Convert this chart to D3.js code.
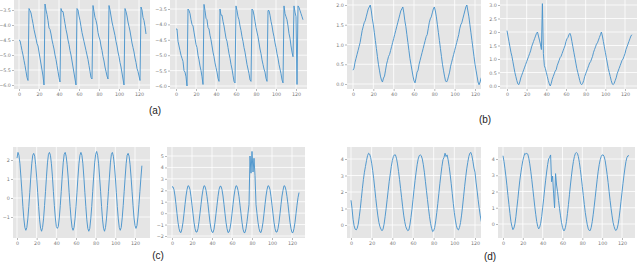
<!DOCTYPE html>
<html>
<head>
<meta charset="utf-8">
<script src="https://cdnjs.cloudflare.com/ajax/libs/d3/7.8.5/d3.min.js"></script>
<style>
  body { margin: 0; background: #fff; }
  svg { display: block; }
</style>
</head>
<body>
<div id="chart"></div>
<script>
// data (index 0..127 on every x axis)
var a1Values = [-4.50,-4.52,-4.68,-4.85,-5.00,-5.18,-5.35,-5.55,-5.75,-5.85,
  -3.45,-3.52,-3.60,-3.78,-3.95,-4.15,-4.30,-4.45,-4.62,-4.70,-4.90,-5.10,-5.30,-5.50,-5.70,-6.00,
  -3.30,-3.50,-3.65,-3.85,-4.10,-4.15,-4.30,-4.50,-4.65,-4.80,-5.00,-5.15,-5.35,-5.55,-5.75,-5.90,
  -3.45,-3.55,-3.55,-3.75,-3.95,-4.15,-4.30,-4.50,-4.65,-4.85,-5.00,-5.20,-5.40,-5.60,-5.80,-6.00,
  -3.45,-3.50,-3.70,-3.85,-4.05,-4.25,-4.40,-4.55,-4.70,-4.85,-5.00,-5.15,-5.35,-5.55,-5.75,-5.80,
  -3.35,-3.55,-3.75,-3.85,-4.00,-4.25,-4.40,-4.50,-4.70,-4.85,-5.05,-5.20,-5.40,-5.55,-5.70,-5.80,
  -3.35,-3.50,-3.70,-3.90,-4.05,-4.20,-4.35,-4.55,-4.70,-4.90,-5.05,-5.25,-5.40,-5.60,-5.80,-6.00,
  -3.45,-3.55,-3.70,-3.90,-4.05,-4.20,-4.40,-4.60,-4.75,-4.90,-5.10,-5.25,-5.45,-5.55,-5.70,-5.85,
  -3.40,-3.50,-3.75,-3.85,-4.05,-4.30];

var a2Values = [-4.15,-4.15,-4.55,-4.70,-4.85,-5.00,-5.10,-5.20,-5.50,-5.55,-5.70,-6.00,
  -3.50,-3.55,-3.65,-3.85,-4.00,-4.05,-4.25,-4.45,-4.65,-4.75,-5.00,-5.15,-5.35,-5.50,-5.70,-5.95,
  -3.35,-3.55,-3.80,-3.85,-4.10,-4.15,-4.35,-4.50,-4.70,-4.90,-5.05,-5.25,-5.40,-5.55,-5.75,-5.85,
  -3.50,-3.70,-3.70,-3.90,-4.05,-4.25,-4.45,-4.55,-4.75,-4.95,-5.10,-5.30,-5.45,-5.65,-5.85,-5.90,
  -3.40,-3.55,-3.75,-3.85,-4.05,-4.20,-4.40,-4.55,-4.75,-4.90,-5.10,-5.30,-5.45,-5.60,-5.80,-5.85,
  -3.50,-3.55,-3.70,-3.90,-4.10,-4.25,-4.40,-4.60,-4.80,-4.95,-5.15,-5.30,-5.45,-5.55,-5.75,-5.85,
  -3.55,-3.55,-3.70,-3.90,-4.05,-4.25,-4.40,-4.60,-4.75,-4.95,-5.10,-5.30,-5.45,-5.60,-5.80,-5.90,
  -3.40,-3.65,-3.75,-3.85,-4.05,-4.30,-4.45,-4.70,-4.90,-5.05,
  -3.40,-3.60,-3.75,-5.95,-3.40,-3.45,-3.55,-3.65,-3.75,-3.85];

var b1Values = [0.35,0.40,0.55,0.65,0.75,0.85,0.95,1.05,1.20,1.35,1.45,1.55,1.60,1.70,1.80,1.90,1.95,2.00,
  1.85,1.65,1.50,1.30,1.10,0.90,0.70,0.50,0.35,0.20,0.10,0.05,
  0.15,0.20,0.35,0.50,0.60,0.70,0.75,0.85,0.95,1.05,1.15,1.25,1.35,1.45,1.55,1.65,1.75,1.85,1.90,1.95,
  1.80,1.60,1.45,1.25,1.05,0.85,0.65,0.50,0.35,0.20,0.08,0.03,
  0.15,0.30,0.35,0.50,0.60,0.70,0.80,0.90,1.00,1.10,1.20,1.25,1.40,1.55,1.65,1.70,1.80,1.90,1.95,
  1.85,1.70,1.50,1.30,1.10,0.90,0.70,0.50,0.35,0.20,0.08,0.05,
  0.10,0.20,0.30,0.45,0.55,0.65,0.75,0.85,0.95,1.05,1.15,1.25,1.40,1.50,1.55,1.65,1.75,1.85,1.95,2.00,
  1.85,1.70,1.50,1.30,1.10,0.90,0.70,0.50,0.35,0.20,0.05,-0.02,
  0.05,0.15,0.20];

var b2Values = [2.05,1.85,1.65,1.45,1.25,1.10,0.90,0.70,0.50,0.35,0.20,0.08,0.05,
  0.15,0.30,0.40,0.50,0.60,0.70,0.80,0.90,1.00,1.10,1.20,1.30,1.45,1.55,1.65,1.75,1.85,1.95,2.00,
  1.85,1.70,1.55,1.35,3.05,1.20,0.75,0.65,0.50,0.35,0.20,0.08,0.00,
  0.10,0.25,0.35,0.45,0.55,0.60,0.75,0.85,0.95,1.05,1.10,1.20,1.30,1.40,1.50,1.65,1.75,1.80,1.90,1.95,
  1.85,1.65,1.45,1.25,1.05,0.85,0.65,0.50,0.35,0.20,0.08,0.05,
  0.10,0.20,0.35,0.45,0.55,0.65,0.75,0.85,0.90,1.00,1.10,1.25,1.35,1.45,1.55,1.60,1.70,1.80,1.90,2.00,
  1.85,1.65,1.45,1.25,1.05,0.85,0.65,0.50,0.35,0.20,0.08,0.05,
  0.10,0.20,0.30,0.45,0.55,0.65,0.75,0.85,0.95,1.00,1.10,1.20,1.35,1.45,1.55,1.65,1.75,1.85,1.90];

var c1Values = [2.10,
  2.40,2.25,1.80,1.10,0.35,-0.45,-1.10,-1.55,-1.70,-1.55,-1.10,-0.45,0.30,1.10,1.80,2.25,
  2.35,2.20,1.75,1.10,0.30,-0.45,-1.15,-1.60,-1.75,-1.55,-1.10,-0.40,0.35,1.15,1.85,2.30,
  2.40,2.25,1.80,1.15,0.35,-0.40,-1.05,-1.50,-1.60,-1.50,-1.05,-0.40,0.35,1.15,1.85,2.30,
  2.40,2.20,1.75,1.10,0.30,-0.45,-1.10,-1.55,-1.70,-1.55,-1.10,-0.45,0.30,1.10,1.80,2.25,
  2.40,2.25,1.80,1.10,0.30,-0.45,-1.15,-1.60,-1.75,-1.60,-1.10,-0.45,0.35,1.15,1.85,2.30,
  2.45,2.25,1.80,1.10,0.35,-0.45,-1.15,-1.60,-1.75,-1.55,-1.10,-0.40,0.35,1.10,1.85,2.30,
  2.40,2.20,1.75,1.10,0.30,-0.45,-1.10,-1.55,-1.70,-1.55,-1.05,-0.40,0.35,1.10,1.80,2.25,
  2.35,2.20,1.75,1.10,0.35,-0.40,-1.05,-1.45,-1.60,-1.45,-1.00,-0.35,0.35,1.05,1.70];

var c2Values = [2.30,2.30,2.05,1.50,0.75,-0.05,-0.80,-1.35,-1.65,-1.70,-1.35,-0.80,-0.05,0.75,1.50,2.05,
  2.40,2.35,2.05,1.45,0.70,-0.05,-0.80,-1.35,-1.65,-1.65,-1.35,-0.75,0.00,0.75,1.50,2.05,
  2.40,2.35,2.00,1.45,0.75,-0.05,-0.80,-1.35,-1.65,-1.70,-1.40,-0.80,-0.05,0.70,1.45,2.05,
  2.35,2.35,2.05,1.50,0.75,-0.05,-0.80,-1.35,-1.70,-1.65,-1.35,-0.80,-0.05,0.75,1.50,2.05,
  2.40,2.35,2.00,1.45,0.70,-0.05,-0.80,-1.40,-1.70,-1.70,-1.35,-0.75,0.00,0.75,5.00,3.50,
  5.40,3.60,4.80,3.30,0.75,-0.05,-0.80,-1.35,-1.65,-1.70,-1.35,-0.80,-0.05,0.75,1.50,2.05,
  2.40,2.35,2.05,1.45,0.70,-0.05,-0.80,-1.35,-1.65,-1.65,-1.35,-0.80,-0.05,0.75,1.50,2.00,
  2.40,2.35,2.00,1.45,0.75,-0.05,-0.80,-1.35,-1.70,-1.70,-1.35,-0.80,-0.05,0.70,1.35,1.80];

var d1Values = [1.50,1.00,0.35,-0.05,-0.25,-0.30,-0.20,0.05,0.50,1.00,1.60,2.20,2.75,3.20,3.55,3.90,4.20,4.35,4.30,4.10,
  3.75,3.30,2.80,2.20,1.60,1.05,0.55,0.15,-0.10,-0.25,-0.35,-0.25,0.05,0.50,1.00,1.55,2.10,2.65,3.10,3.55,
  3.90,4.15,4.25,4.25,4.05,3.70,3.25,2.75,2.20,1.65,1.10,0.60,0.20,-0.10,-0.25,-0.35,-0.30,0.00,0.45,0.95,
  1.55,2.15,2.70,3.20,3.65,4.00,4.20,4.25,4.20,4.00,3.65,3.20,2.65,2.10,1.55,1.00,0.50,0.10,-0.20,-0.40,
  -0.35,-0.15,0.25,0.75,1.30,1.90,2.50,3.05,3.55,3.95,4.10,4.35,4.15,4.25,3.95,3.55,3.05,2.50,1.90,1.30,
  0.75,0.30,-0.05,-0.25,-0.30,-0.15,0.15,0.60,1.15,1.75,2.35,2.90,3.40,3.80,4.15,4.35,4.40,4.20,3.85,3.45,
  3.20,2.60,2.10,1.55,1.05,0.60,0.25,0.00];

var d2Values = [4.20,3.85,3.40,2.90,2.35,1.75,1.20,0.65,0.15,-0.15,-0.35,-0.25,0.00,0.45,1.00,1.55,2.15,2.70,3.15,3.55,
  3.90,4.15,4.35,4.30,4.35,4.30,4.05,3.70,3.25,2.75,2.20,1.65,1.10,0.60,0.15,-0.15,-0.30,-0.20,0.05,0.45,
  1.00,1.55,2.15,2.70,3.20,3.65,4.00,4.10,4.25,2.60,2.95,1.90,1.00,3.10,2.40,2.00,1.45,0.95,0.50,0.10,
  -0.20,-0.40,-0.40,-0.20,0.15,0.65,1.20,1.80,2.40,2.95,3.45,3.85,4.15,4.35,4.40,4.35,4.15,3.80,3.35,2.85,
  2.30,1.75,1.20,0.70,0.30,-0.05,-0.30,-0.40,-0.40,-0.20,0.15,0.60,1.10,1.65,2.20,2.75,3.25,3.65,3.95,4.15,
  4.25,4.25,4.15,3.90,3.50,3.05,2.55,2.00,1.45,0.95,0.50,0.10,-0.15,-0.35,-0.40,-0.30,-0.05,0.35,0.85,1.40,
  1.95,2.50,3.00,3.45,3.85,4.10,4.20,4.20];

// tick labels
var xTicks = [0, 20, 40, 60, 80, 100, 120];
var yTicksA = [-3.5, -4.0, -4.5, -5.0, -5.5, -6.0];
var yTicksB1 = [0.0, 0.5, 1.0, 1.5, 2.0];
var yTicksB2 = [0.0, 0.5, 1.0, 1.5, 2.0, 2.5, 3.0];
var yTicksC1 = [-1, 0, 1, 2];
var yTicksC2 = [-2, -1, 0, 1, 2, 3, 4, 5];
var yTicksD = [0, 1, 2, 3, 4];

var subLabels = ["(a)", "(b)", "(c)", "(d)"];

// layout of the panels: gray box, and two reference points per axis
var panels = [
  {values: a1Values, ticks: yTicksA, fmt: ".1f", box: [14, 150, 0, 89], xr: [19, 139], yd: [-3.5, -6.0], yr: [10, 85]},
  {values: a2Values, ticks: yTicksA, fmt: ".1f", box: [170, 307, 0, 89], xr: [176, 296], yd: [-3.5, -6.0], yr: [9, 86]},
  {values: b1Values, ticks: yTicksB1, fmt: ".1f", box: [347, 481, 0, 89], xr: [353, 475], yd: [2.0, 0.0], yr: [5, 84]},
  {values: b2Values, ticks: yTicksB2, fmt: ".1f", box: [500, 637, 0, 89], xr: [507, 625], yd: [3.0, 0.0], yr: [5, 86]},
  {values: c1Values, ticks: yTicksC1, fmt: "d", box: [13, 150, 147, 238], xr: [17, 135], yd: [2, -1], yr: [160, 217]},
  {values: c2Values, ticks: yTicksC2, fmt: "d", box: [167, 305, 147, 238], xr: [172, 292], yd: [5, -2], yr: [156, 236]},
  {values: d1Values, ticks: yTicksD, fmt: "d", box: [347, 481, 147, 238], xr: [351, 475], yd: [4, 0], yr: [159, 225]},
  {values: d2Values, ticks: yTicksD, fmt: "d", box: [498, 635, 147, 238], xr: [503, 622], yd: [4, 0], yr: [159, 224]}
];

var labelPos = [[155, 110], [485, 119], [158, 255], [490, 256]];

var svg = d3.select("#chart")
  .append("svg")
    .attr("width", 640)
    .attr("height", 262);

panels.forEach(function(p, i) {
  var x = d3.scaleLinear().domain([0, 120]).range(p.xr);
  var y = d3.scaleLinear().domain(p.yd).range(p.yr);
  var x0 = p.box[0], x1 = p.box[1], y0 = p.box[2], y1 = p.box[3];
  var fmt = d3.format(p.fmt);

  var g = svg.append("g");

  g.append("clipPath")
      .attr("id", "clip" + i)
    .append("rect")
      .attr("x", x0).attr("y", y0)
      .attr("width", x1 - x0).attr("height", y1 - y0);

  // background
  g.append("rect")
    .attr("x", x0).attr("y", y0)
    .attr("width", x1 - x0).attr("height", y1 - y0)
    .attr("fill", "#e5e5e5");

  // grid
  var grid = g.append("g").attr("clip-path", "url(#clip" + i + ")");
  grid.selectAll(".vg").data(xTicks).enter().append("line")
    .attr("x1", d => x(d)).attr("x2", d => x(d))
    .attr("y1", y0).attr("y2", y1)
    .attr("stroke", "#fff").attr("stroke-width", 0.8);
  grid.selectAll(".hg").data(p.ticks).enter().append("line")
    .attr("x1", x0).attr("x2", x1)
    .attr("y1", d => y(d)).attr("y2", d => y(d))
    .attr("stroke", "#fff").attr("stroke-width", 0.8);

  // axes
  var xAxis = d3.axisBottom(x).tickValues(xTicks).tickSize(2).tickPadding(1.5);
  var yAxis = d3.axisLeft(y).tickValues(p.ticks).tickSize(2).tickPadding(1.2)
    .tickFormat(d => fmt(d).replace("-", "\u2212"));

  var gx = g.append("g").attr("transform", "translate(0," + y1 + ")").call(xAxis);
  var gy = g.append("g").attr("transform", "translate(" + x0 + ",0)").call(yAxis);
  [gx, gy].forEach(function(ax) {
    ax.select(".domain").remove();
    ax.selectAll("line").attr("stroke", "#888").attr("stroke-width", 0.6);
    ax.selectAll("text")
      .attr("fill", "#777")
      .style("font-family", "DejaVu Sans, sans-serif")
      .style("font-size", "4.8px");
  });

  // line
  g.append("path")
    .datum(p.values)
    .attr("clip-path", "url(#clip" + i + ")")
    .attr("fill", "none")
    .attr("stroke", "#4b95cc")
    .attr("stroke-width", 0.95)
    .attr("stroke-linejoin", "round")
    .attr("d", d3.line()
      .x(function(d, k) { return x(k); })
      .y(function(d) { return y(d); }));
});

// sub figure labels
svg.selectAll(".sub").data(subLabels).enter().append("text")
  .attr("x", (d, i) => labelPos[i][0])
  .attr("y", (d, i) => labelPos[i][1])
  .attr("text-anchor", "middle")
  .attr("dominant-baseline", "central")
  .attr("fill", "#222")
  .style("font-family", "Liberation Sans, Arial, sans-serif")
  .style("font-size", "10px")
  .text(d => d);
</script>
</body>
</html>
